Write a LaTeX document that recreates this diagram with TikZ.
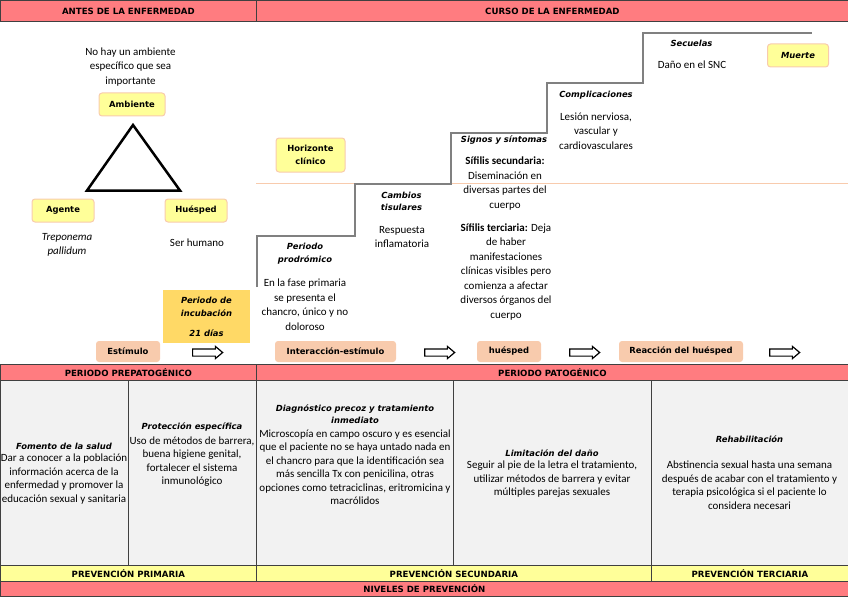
\documentclass[tikz,border=0pt]{standalone}
\usepackage{fontspec}
\setmainfont{Carlito}
\newfontfamily\titulo{DejaVu Sans}
\usetikzlibrary{shapes, arrows, positioning, shapes.arrows}

\definecolor{salmon}{HTML}{FF7C80}
\definecolor{grisceldas}{HTML}{F2F2F2}
\definecolor{amarillo}{HTML}{FFFF99}
\definecolor{durazno}{HTML}{F8CBAD}
\definecolor{dorado}{HTML}{FFD966}
\definecolor{borde}{HTML}{404040}
\definecolor{escalon}{HTML}{808080}

\begin{document}
\begin{tikzpicture}[x=1pt, y=-1pt,
  banda/.style={draw=borde, line width=0.8pt, anchor=north west, inner sep=0pt, font=\titulo\bfseries\fontsize{8.6}{10}\selectfont},
  celda/.style={draw=borde, fill=grisceldas, line width=0.8pt, anchor=north west, minimum height=185},
  cajaamarilla/.style={draw=durazno, fill=amarillo, line width=1pt, rounded corners=3pt, inner sep=0pt, align=center, font=\titulo\bfseries\fontsize{8.4}{13}\selectfont},
  cajadurazno/.style={fill=durazno, rounded corners=3pt, inner sep=0pt, minimum height=21, font=\titulo\bfseries\fontsize{8.4}{10}\selectfont},
  flecha/.style={single arrow, draw, line width=1.2pt, inner xsep=0pt, inner ysep=3pt, minimum height=30, minimum width=11, single arrow head extend=2.5pt, single arrow tip angle=80},
  texto/.style={font=\fontsize{11}{14.5}\selectfont, align=center, inner sep=0pt},
  textocelda/.style={font=\fontsize{11}{13.5}\selectfont, align=center, inner sep=0pt},
  subtitulo/.style={font=\titulo\bfseries\itshape\fontsize{8.4}{12.5}\selectfont, align=center, inner sep=0pt}
]
\useasboundingbox (0,0) rectangle (848,599);

% bandas
\node[banda, fill=salmon, minimum width=256, minimum height=21] (antes) at (0,0) {ANTES DE LA ENFERMEDAD};
\node[banda, fill=salmon, minimum width=592, minimum height=21] (curso) at (256,0) {CURSO DE LA ENFERMEDAD};
\node[banda, fill=salmon, minimum width=256, minimum height=16] (prepat) at (0,364) {PERIODO PREPATOGÉNICO};
\node[banda, fill=salmon, minimum width=592, minimum height=16] (pat) at (256,364) {PERIODO PATOGÉNICO};

\node[celda, minimum width=128] (c1) at (0,380) {};
\node[celda, minimum width=128] (c2) at (128,380) {};
\node[celda, minimum width=197] (c3) at (256,380) {};
\node[celda, minimum width=198] (c4) at (453,380) {};
\node[celda, minimum width=197] (c5) at (651,380) {};

\node[banda, fill=amarillo, minimum width=256, minimum height=16] (prim) at (0,565) {PREVENCIÓN PRIMARIA};
\node[banda, fill=amarillo, minimum width=395, minimum height=16] (secu) at (256,565) {PREVENCIÓN SECUNDARIA};
\node[banda, fill=amarillo, minimum width=197, minimum height=16] (terc) at (651,565) {PREVENCIÓN TERCIARIA};
\node[banda, fill=salmon, minimum width=848, minimum height=15] (niveles) at (0,581) {NIVELES DE PREVENCIÓN};

% triada
\node[texto] (noamb) at (130.5,67) {No hay un ambiente\\específico que sea\\importante};
\node[cajaamarilla, minimum width=66, minimum height=23] (ambiente) at (132,104.5) {Ambiente};
\draw[line width=2.5pt, line join=miter] (133,125) -- (180,190.5) -- (87,190.5) -- cycle;
\node[cajaamarilla, minimum width=62, minimum height=23] (agente) at (63,210.5) {Agente};
\node[cajaamarilla, minimum width=62, minimum height=23] (huesped) at (196,210.5) {Huésped};
\node[texto, font=\fontsize{11}{14}\selectfont\itshape] (trep) at (67,245) {Treponema\\pallidum};
\node[texto] (ser) at (197,243) {Ser humano};

% historia natural
\draw[durazno, line width=0.8pt] (256,183) -- (848,183);
\draw[escalon, line width=1.5pt] (257,287) -- (257,236) -- (355,236) -- (355,184) -- (451,184) -- (451,133)
  -- (547,133) -- (547,83) -- (643,83) -- (643,33) -- (812,33);

\node[cajaamarilla, minimum width=69, minimum height=34] (horizonte) at (310.5,155) {Horizonte\\clínico};
\node[cajaamarilla, minimum width=61, minimum height=23, font=\titulo\bfseries\itshape\fontsize{8.4}{10}\selectfont] (muerte) at (798,55.5) {Muerte};

\node[subtitulo] (prodromo) at (305,253.5) {Periodo\\prodrómico};
\node[texto] (fase) at (305,304.5) {En la fase primaria\\se presenta el\\chancro, único y no\\doloroso};
\node[subtitulo] (cambios) at (401.5,201.5) {Cambios\\tisulares};
\node[texto] (respuesta) at (402,237) {Respuesta\\inflamatoria};
\node[subtitulo] (signos) at (504,140) {Signos y síntomas};
\node[texto] (secundaria) at (505,183.5) {\textbf{Sífilis secundaria:}\\Diseminación en\\diversas partes del\\cuerpo};
\node[texto] (terciaria) at (506,272) {\textbf{Sífilis terciaria:} Deja\\de haber\\manifestaciones\\clínicas visibles pero\\comienza a afectar\\diversos órganos del\\cuerpo};
\node[subtitulo] (complica) at (596,95) {Complicaciones};
\node[texto] (lesion) at (596,131) {Lesión nerviosa,\\vascular y\\cardiovasculares};
\node[subtitulo] (secuelas) at (691.5,43) {Secuelas};
\node[texto] (dano) at (692,65) {Daño en el SNC};

% fila de etapas
\node[fill=dorado, minimum width=87, minimum height=53, inner sep=0pt, align=center,
  font=\titulo\bfseries\itshape\fontsize{8.4}{13}\selectfont] (incubacion) at (206.5,316.5) {Periodo de\\incubación\\[7pt]21 días};
\node[cajadurazno, minimum width=64] (estimulo) at (128,351.5) {Estímulo};
\node[cajadurazno, minimum width=121] (interaccion) at (335.5,351.5) {Interacción-estímulo};
\node[cajadurazno, minimum width=64] (huesped2) at (509,351.5) {huésped};
\node[cajadurazno, minimum width=124] (reaccion) at (681,351.5) {Reacción del huésped};
\node[flecha] (f1) at (205.5,352.5) {};
\node[flecha] (f2) at (437.5,352.5) {};
\node[flecha] (f3) at (582.5,352.5) {};
\node[flecha] (f4) at (782.5,352.5) {};

% niveles de prevencion
\node[subtitulo] (fomento) at (64,446) {Fomento de la salud};
\node[textocelda] (fomentot) at (64,479) {Dar a conocer a la población\\información acerca de la\\enfermedad y promover la\\educación sexual y sanitaria};
\node[subtitulo] (proteccion) at (192,427) {Protección específica};
\node[textocelda] (protecciont) at (192,461.5) {Uso de métodos de barrera,\\buena higiene genital,\\fortalecer el sistema\\inmunológico};
\node[subtitulo] (diagnostico) at (355,414) {Diagnóstico precoz y tratamiento\\inmediato};
\node[textocelda] (diagnosticot) at (355,467) {Microscopía en campo oscuro y es esencial\\que el paciente no se haya untado nada en\\el chancro para que la identificación sea\\más sencilla Tx con penicilina, otras\\opciones como tetraciclinas, eritromicina y\\macrólidos};
\node[subtitulo] (limitacion) at (552,453) {Limitación del daño};
\node[textocelda] (limitaciont) at (552,479.5) {Seguir al pie de la letra el tratamiento,\\utilizar métodos de barrera y evitar\\múltiples parejas sexuales};
\node[subtitulo] (rehab) at (749.5,439) {Rehabilitación};
\node[textocelda] (rehabt) at (749.5,485) {Abstinencia sexual hasta una semana\\después de acabar con el tratamiento y\\terapia psicológica si el paciente lo\\considera necesari};
\end{tikzpicture}
\end{document}
